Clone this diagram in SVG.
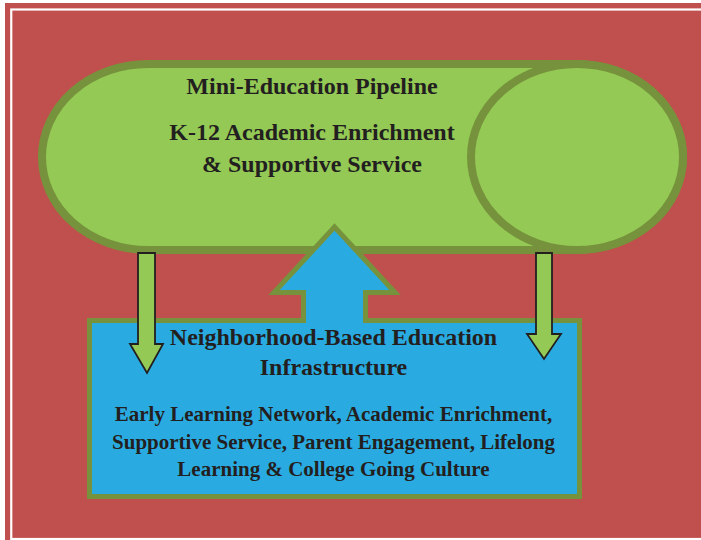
<svg xmlns="http://www.w3.org/2000/svg" width="701" height="540" viewBox="0 0 701 540">
  <style>
    .pill { fill: #93C954; stroke: #76923C; stroke-width: 8; }
    .base { fill: #29ABE2; stroke: #76923C; stroke-width: 5; stroke-linejoin: miter; stroke-miterlimit: 10; }
    .down { fill: #93C954; stroke: #231F20; stroke-width: 1.8; stroke-linejoin: miter; }
    text { font-family: "Liberation Serif", "Times New Roman", serif; font-weight: bold; fill: #231F20; text-anchor: middle; }
    .t24 { font-size: 24px; }
    .t21 { font-size: 21px; }
  </style>

  <!-- page frame -->
  <rect x="0" y="0" width="701" height="540" fill="#FFFFFF"/>
  <rect x="5" y="3" width="696" height="537" fill="#C0504D"/>
  <rect x="11.25" y="9.5" width="700" height="529.5" fill="none" stroke="#FFFFFF" stroke-width="2.2"/>

  <!-- horizontal cylinder: pipeline -->
  <g id="pipeline">
    <path class="pill" d="M148,64 L577,64 A106,93 0 0 1 577,250 L148,250 A106,93 0 0 1 148,64 Z"/>
    <ellipse class="pill" cx="577" cy="157" rx="106" ry="93"/>
    <text class="t24" x="312" y="94">Mini-Education Pipeline</text>
    <text class="t24" x="312" y="140">K-12 Academic Enrichment</text>
    <text class="t24" x="312" y="172">&amp; Supportive Service</text>
  </g>

  <!-- neighborhood box with upward arrow -->
  <g id="infrastructure">
    <path class="base" d="M89.5,320.5 L303.5,320.5 L303.5,292.5 L274,292.5 L334.5,227 L395,292.5 L365.5,292.5 L365.5,320.5 L579.5,320.5 L579.5,496.5 L89.5,496.5 Z"/>
  </g>

  <g id="connectors">
    <polygon class="down" points="138,253 155,253 155,344 163,344 147,373 130,344 138,344"/>
    <polygon class="down" points="536,253 552,253 552,334 561,334 544,359 527,334 536,334"/>
  </g>

  <g id="infrastructure-text">
    <text class="t24" x="333.5" y="345">Neighborhood-Based Education</text>
    <text class="t24" x="333.5" y="375">Infrastructure</text>
    <text class="t21" x="333.5" y="421">Early Learning Network, Academic Enrichment,</text>
    <text class="t21" x="333.5" y="448.5">Supportive Service, Parent Engagement, Lifelong</text>
    <text class="t21" x="333.5" y="476">Learning &amp; College Going Culture</text>
  </g>
</svg>
